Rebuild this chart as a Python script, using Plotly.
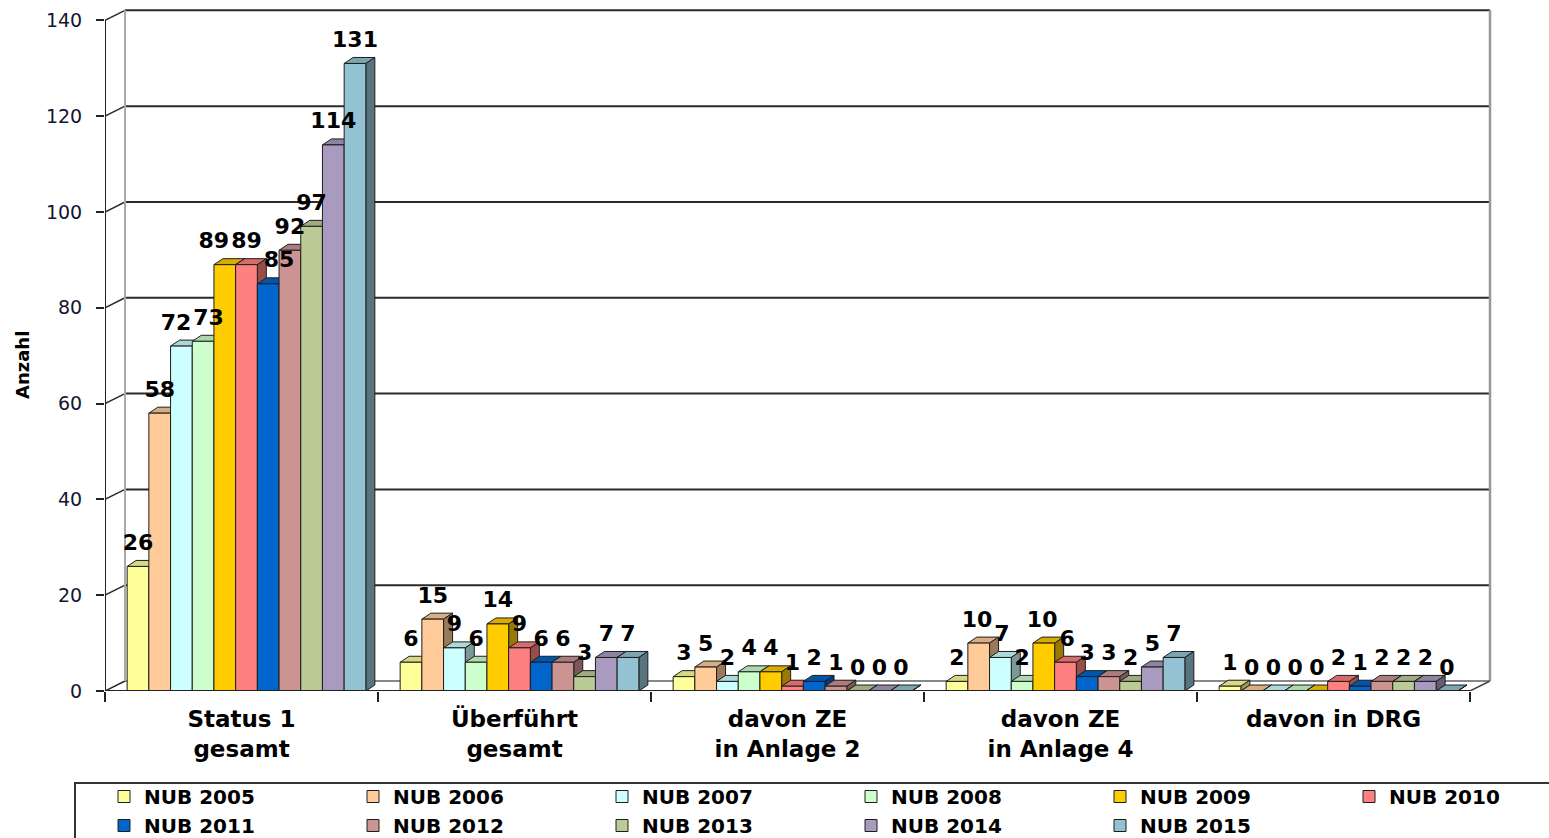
import plotly.graph_objects as go

# ---------------- data ----------------
categories = ["Status 1<br>gesamt", "Überführt<br>gesamt", "davon ZE<br>in Anlage 2",
              "davon ZE<br>in Anlage 4", "davon in DRG"]
series_names = ["NUB 2005", "NUB 2006", "NUB 2007", "NUB 2008", "NUB 2009", "NUB 2010",
                "NUB 2011", "NUB 2012", "NUB 2013", "NUB 2014", "NUB 2015"]

nub_2005 = [26, 6, 3, 2, 1]
nub_2006 = [58, 15, 5, 10, 0]
nub_2007 = [72, 9, 2, 7, 0]
nub_2008 = [73, 6, 4, 2, 0]
nub_2009 = [89, 14, 4, 10, 0]
nub_2010 = [89, 9, 1, 6, 2]
nub_2011 = [85, 6, 2, 3, 1]
nub_2012 = [92, 6, 1, 3, 2]
nub_2013 = [97, 3, 0, 2, 2]
nub_2014 = [114, 7, 0, 5, 2]
nub_2015 = [131, 7, 0, 7, 0]

series_values = [nub_2005, nub_2006, nub_2007, nub_2008, nub_2009, nub_2010,
                 nub_2011, nub_2012, nub_2013, nub_2014, nub_2015]

colors = ["#FFFF99", "#FFCC99", "#CCFFFF", "#CCFFCC", "#FFCC00", "#FF8080",
          "#0066CC", "#CC9393", "#BACB96", "#A89BBF", "#93C2D3"]

y_ticks = [0, 20, 40, 60, 80, 100, 120, 140]
y_title = "Anzahl"

# ---------------- geometry (styling) ----------------
W, H = 1549, 838
M_L, M_R, M_T, M_B = 105, 20, 6, 147
PX_PER_GROUP = 273.0
plot_w = W - M_L - M_R
plot_h = H - M_T - M_B
x_range = [-0.5, -0.5 + plot_w / PX_PER_GROUP]
y_range = [0, 143]
px_x = PX_PER_GROUP
px_y = plot_h / (y_range[1] - y_range[0])

bar_w = 21.7 / px_x
bar_shift = 5 / px_x
depth_x = 9 / px_x
depth_y = 6 / px_y
wall_dx = 20 / px_x
wall_dy = 10 / px_y
label_gap = 5 / px_y
LABEL_SIZE = 22
DIGIT_PX = 0.696 * LABEL_SIZE     # bold digit advance
LABEL_H_PX = 20


def shade(hex_color, f):
    h = hex_color.lstrip("#")
    r, g, b = (int(h[i:i + 2], 16) for i in (0, 2, 4))
    return "#%02X%02X%02X" % (int(r * f), int(g * f), int(b * f))


fig = go.Figure()
shapes = []
LINE_DARK = "#2A2A2A"

# back wall & floor (3D frame)
x_left = x_range[0]
x_right = len(categories) - 0.5
for v in y_ticks:
    shapes.append(dict(type="line", xref="x", yref="y", x0=x_left, y0=v,
                       x1=x_left + wall_dx, y1=v + wall_dy,
                       line=dict(color=LINE_DARK, width=1.5), layer="between"))
    shapes.append(dict(type="line", xref="x", yref="y", x0=x_left + wall_dx, y0=v + wall_dy,
                       x1=x_right + wall_dx, y1=v + wall_dy,
                       line=dict(color=LINE_DARK if v > 0 else "#888888", width=2), layer="between"))
shapes.append(dict(type="line", xref="x", yref="y", x0=x_left + wall_dx, y0=wall_dy,
                   x1=x_left + wall_dx, y1=y_ticks[-1] + wall_dy,
                   line=dict(color="#AAAAAA", width=2), layer="between"))
shapes.append(dict(type="line", xref="x", yref="y", x0=x_right + wall_dx, y0=wall_dy,
                   x1=x_right + wall_dx, y1=y_ticks[-1] + wall_dy,
                   line=dict(color="#999999", width=2.5), layer="between"))
shapes.append(dict(type="line", xref="x", yref="y", x0=x_left, y0=0, x1=x_right, y1=0,
                   line=dict(color="#222222", width=2), layer="above"))
shapes.append(dict(type="line", xref="x", yref="y", x0=x_right, y0=0,
                   x1=x_right + wall_dx, y1=wall_dy,
                   line=dict(color="#444444", width=1.5), layer="between"))
shapes.append(dict(type="line", xref="x", yref="y", x0=x_left, y0=0, x1=x_left, y1=y_ticks[-1],
                   line=dict(color="#222222", width=2), layer="above"))

n = len(series_values)
bar_x = []
for i, (name, vals, col) in enumerate(zip(series_names, series_values, colors)):
    xs = [g + (i - (n - 1) / 2) * bar_w + bar_shift for g in range(len(categories))]
    bar_x.append(xs)
    fig.add_trace(go.Bar(
        x=xs, y=vals, width=bar_w, name=name,
        marker=dict(color=col, line=dict(color="#1E1E1E", width=1)),
        hoverinfo="name+y",
    ))
    for x, v in zip(xs, vals):
        x0, x1 = x - bar_w / 2, x + bar_w / 2
        shapes.append(dict(
            type="path", xref="x", yref="y", layer="between",
            path=f"M{x0},{v} L{x0 + depth_x},{v + depth_y} L{x1 + depth_x},{v + depth_y} L{x1},{v} Z",
            fillcolor=shade(col, 0.85), line=dict(color="#1E1E1E", width=1)))
        shapes.append(dict(
            type="path", xref="x", yref="y", layer="between",
            path=f"M{x1},0 L{x1},{v} L{x1 + depth_x},{v + depth_y} L{x1 + depth_x},{depth_y} Z",
            fillcolor=shade(col, 0.6), line=dict(color="#1E1E1E", width=1)))

# data-label positions: start centred over each bar, then nudge neighbours apart
label_x = [row[:] for row in bar_x]
for g in range(len(categories)):
    for _ in range(6):
        for i in range(n - 1):
            a, b = series_values[i][g], series_values[i + 1][g]
            if abs(a - b) * px_y >= LABEL_H_PX:
                continue
            wa = len(str(a)) * DIGIT_PX
            wb = len(str(b)) * DIGIT_PX
            need = (wa + wb) / 2 + 2
            dist = (label_x[i + 1][g] - label_x[i][g]) * px_x
            if dist < need:
                push = (need - dist) / 2 / px_x
                label_x[i][g] -= push
                label_x[i + 1][g] += push

for i, vals in enumerate(series_values):
    fig.add_trace(go.Scatter(
        x=label_x[i], y=[v + depth_y + label_gap for v in vals], mode="text",
        text=[str(v) for v in vals], textposition="top center",
        textfont=dict(family="DejaVu Sans", size=LABEL_SIZE, color="black", weight="bold"),
        showlegend=False, hoverinfo="skip", cliponaxis=False,
    ))

# legend border box
leg_y_top = (H - M_B - 783) / plot_h
shapes.append(dict(type="rect", xref="paper", yref="paper",
                   x0=(75 - M_L) / plot_w, x1=(1600 - M_L) / plot_w,
                   y0=leg_y_top, y1=leg_y_top - 0.3,
                   line=dict(color="#333333", width=2), fillcolor="rgba(0,0,0,0)", layer="above"))

fig.update_layout(
    width=W, height=H,
    margin=dict(l=M_L, r=M_R, t=M_T, b=M_B, autoexpand=False),
    paper_bgcolor="white", plot_bgcolor="white",
    barmode="overlay",
    shapes=shapes,
    font=dict(family="DejaVu Sans", color="black"),
    xaxis=dict(
        range=x_range, tickmode="array", tickvals=list(range(len(categories))), ticktext=categories,
        showgrid=False, zeroline=False, showline=False, ticks="",
        tickfont=dict(family="DejaVu Sans", size=23, color="black", weight="bold"),
        ticklabelstandoff=12,
        minor=dict(tickmode="array", tickvals=[k - 0.5 for k in range(len(categories) + 1)],
                   ticks="outside", ticklen=10,
                   tickcolor="#222222", tickwidth=2, showgrid=False),
    ),
    yaxis=dict(
        range=y_range, tickmode="array", tickvals=y_ticks,
        showgrid=False, zeroline=False, showline=False,
        ticks="outside", ticklen=8, tickcolor="#222222", tickwidth=2,
        tickfont=dict(family="DejaVu Sans", size=19, color="#141433"),
        ticklabelstandoff=10,
    ),
    annotations=[dict(
        text=y_title, textangle=-90, xref="paper", yref="paper",
        x=(22 - M_L) / plot_w, y=(H - M_B - 365) / plot_h,
        xanchor="center", yanchor="middle", showarrow=False,
        font=dict(family="DejaVu Sans", size=18, color="black", weight="bold"),
    )],
    legend=dict(
        orientation="h", x=(104 - M_L) / plot_w, xanchor="left",
        y=(H - M_B - 777) / plot_h, yanchor="top",
        entrywidth=204, entrywidthmode="pixels",
        font=dict(family="DejaVu Sans", size=20, color="black", weight="bold"),
        bgcolor="rgba(0,0,0,0)", borderwidth=0, tracegroupgap=0,
    ),
    showlegend=True,
)

fig.write_html("out.html")
